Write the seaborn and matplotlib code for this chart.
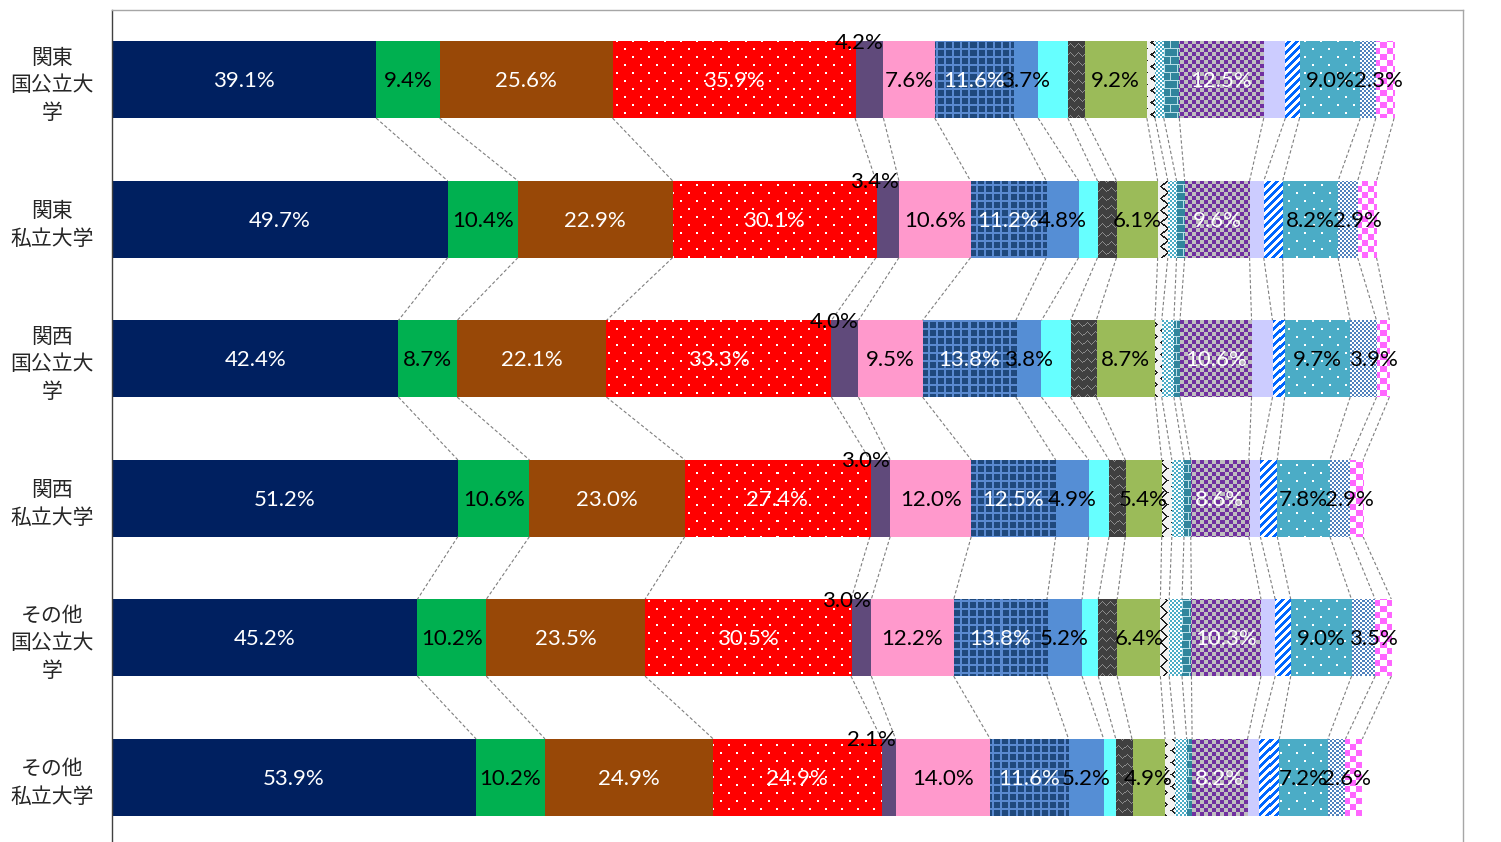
import numpy as np
import pandas as pd
import matplotlib
matplotlib.use("Agg")
import matplotlib.pyplot as plt
import matplotlib.transforms as mtransforms
import seaborn as sns

# ---- data -------------------------------------------------------------
categories = ["関東\n国公立大\n学", "関東\n私立大学", "関西\n国公立大\n学",
              "関西\n私立大学", "その他\n国公立大\n学", "その他\n私立大学"]

kanto_public = [39.1, 9.4, 25.6, 35.9, 4.2, 7.6, 11.6, 3.7, 4.4, 2.5,
                9.2, 1.2, 1.3, 2.3, 12.5, 3.2, 2.1, 9.0, 2.3, 2.7]
kanto_private = [49.7, 10.4, 22.9, 30.1, 3.4, 10.6, 11.2, 4.8, 2.8, 2.8,
                 6.1, 1.5, 1.3, 1.2, 9.6, 2.1, 2.8, 8.2, 2.9, 2.8]
kansai_public = [42.4, 8.7, 22.1, 33.3, 4.0, 9.5, 13.8, 3.8, 4.3, 3.8,
                 8.7, 1.0, 1.8, 0.9, 10.6, 3.1, 1.8, 9.7, 3.9, 1.9]
kansai_private = [51.2, 10.6, 23.0, 27.4, 3.0, 12.0, 12.5, 4.9, 3.0, 2.4,
                  5.4, 1.5, 1.8, 1.0, 8.6, 1.7, 2.5, 7.8, 2.9, 2.0]
other_public = [45.2, 10.2, 23.5, 30.5, 3.0, 12.2, 13.8, 5.2, 2.4, 2.8,
                6.4, 1.3, 1.9, 1.4, 10.3, 2.1, 2.3, 9.0, 3.5, 2.4]
other_private = [53.9, 10.2, 24.9, 24.9, 2.1, 14.0, 11.6, 5.2, 1.8, 2.4,
                 4.9, 1.5, 1.7, 0.8, 8.2, 1.7, 3.0, 7.2, 2.6, 2.5]

rows = [kanto_public, kanto_private, kansai_public,
        kansai_private, other_public, other_private]

# series that carry a value label
labelled = [0, 1, 2, 3, 4, 5, 6, 7, 10, 14, 17, 18]

# ---- styles -------------------------------------------------------------
# (base colour, pattern, label colour)
styles = [
    ("#002060", None, "white"),
    ("#00B050", None, "black"),
    ("#984807", None, "white"),
    ("#FF0000", "dots", "white"),
    ("#604A7B", None, "black"),
    ("#FF99CC", None, "black"),
    ("#1F497D", "grid", "white"),
    ("#558ED5", None, "black"),
    ("#66FFFF", None, "black"),
    ("#404040", "wave", "black"),
    ("#9BBB59", None, "black"),
    ("#F2F2F2", "zigzag", "black"),
    ("#4BACC6", "smallcheck", "black"),
    ("#31859C", "brick", "black"),
    ("#7030A0", "checker_purple", "white"),
    ("#CCCCFF", None, "black"),
    ("#0066FF", "diag", "black"),
    ("#4BACC6", "dots", "black"),
    ("#4F81BD", "smallcheck", "black"),
    ("#FF66FF", "checker_pink", "black"),
]


def rgb(hexcol):
    return np.array(matplotlib.colors.to_rgb(hexcol))


def texture(kind, base, X, Y):
    """Return an RGB array for pattern `kind` on global pixel grids X, Y."""
    bg = rgb(base)
    white = np.array([1.0, 1.0, 1.0])
    if kind == "dots":
        m = ((X % 16 < 2) & (Y % 16 < 2)) | (((X + 8) % 16 < 2) & ((Y + 8) % 16 < 2))
        fg = white
    elif kind == "grid":
        m = (X % 8 < 2) | (Y % 8 < 2)
        fg = rgb("#5A8AD0")
    elif kind == "wave":
        off = np.round(1.5 * np.sin(2 * np.pi * X / 8)).astype(int)
        m = ((Y - off) % 9) == 0
        fg = rgb("#8C8C8C")
    elif kind == "zigzag":
        tri = np.abs((Y % 12) - 6)
        m = ((X - tri) % 10) < 2
        fg = rgb("#202020")
    elif kind == "smallcheck":
        m = ((X // 2 + Y // 2) % 2) == 0
        fg = white
    elif kind == "brick":
        row = Y // 8
        m = (Y % 8 == 0) | ((row % 2 == 0) & (X % 12 == 0)) | ((row % 2 == 1) & (X % 12 == 6))
        fg = rgb("#B7DEE8")
    elif kind == "checker_purple":
        m = ((X // 4 + Y // 4) % 2) == 0
        fg = rgb("#BFBFBF")
    elif kind == "diag":
        m = ((X + Y) % 8) >= 4
        fg = white
    elif kind == "checker_pink":
        m = ((X // 6 + Y // 6) % 2) == 0
        fg = white
    else:
        m = np.zeros_like(X, dtype=bool)
        fg = bg
    img = np.empty(X.shape + (3,))
    img[:] = bg
    img[m] = fg
    return img


# ---- figure -------------------------------------------------------------
sns.set_theme(style="white")
plt.rcParams["font.family"] = ["Lato", "Noto Sans CJK JP", "DejaVu Sans"]

W, H = 1501, 842
fig = plt.figure(figsize=(W / 100, H / 100), dpi=100)
ax = fig.add_axes([112 / W, 1 - 847 / H, (1463 - 112) / W, (847 - 10) / H])

values = np.array(rows)
cum = np.cumsum(values, axis=1)
n_rows, n_series = values.shape
bar_w = 0.55

containers = {}
for k in range(n_series - 1, -1, -1):
    df = pd.DataFrame({"cat": categories, "total": cum[:, k]})
    sns.barplot(data=df, x="total", y="cat", orient="h", order=categories,
                color=styles[k][0], saturation=1, width=bar_w, linewidth=0,
                errorbar=None, ax=ax)
    containers[k] = ax.containers[-1]

ax.set_xlim(0, 200)
ax.set_ylim(n_rows - 0.5, -0.5)

# pattern fills on the visible part of every patterned segment
fig.canvas.draw()
for k, (base, kind, _) in enumerate(styles):
    if kind is None:
        continue
    for r, patch in enumerate(containers[k].patches):
        x0 = cum[r, k - 1] if k > 0 else 0.0
        x1 = cum[r, k]
        y0 = patch.get_y()
        y1 = y0 + patch.get_height()
        (px0, py_a), (px1, py_b) = ax.transData.transform([(x0, y0), (x1, y1)])
        c0, c1 = int(round(px0)), int(round(px1))
        r0 = int(round(H - max(py_a, py_b)))
        r1 = int(round(H - min(py_a, py_b)))
        if c1 <= c0 or r1 <= r0:
            continue
        X, Y = np.meshgrid(np.arange(c0, c1), np.arange(r0, r1))
        img = texture(kind, base, X, Y)
        ax.imshow(img, extent=(x0, x1, max(y0, y1), min(y0, y1)),
                  origin="upper", aspect="auto", interpolation="nearest",
                  zorder=2)

ax.set_xlim(0, 200)
ax.set_ylim(n_rows - 0.5, -0.5)

# dashed series lines between neighbouring bars
for r in range(n_rows - 1):
    for k in range(n_series):
        ax.plot([cum[r, k], cum[r + 1, k]],
                [r + bar_w / 2, r + 1 - bar_w / 2],
                color="#7F7F7F", lw=0.8, ls=(0, (3, 2)), zorder=1)

# value labels
fs = 16
right_shift = mtransforms.offset_copy(ax.transData, fig=fig, x=10, y=0, units="dots")
for r in range(n_rows):
    for k in labelled:
        v = values[r, k]
        x0 = cum[r, k - 1] if k > 0 else 0.0
        x1 = cum[r, k]
        txt = f"{v:.1f}%"
        col = styles[k][2]
        if k == 4:
            ax.text(x1, r - bar_w / 2 + 0.01, txt, ha="right", va="center",
                    fontsize=fs, color=col, zorder=6)
        elif k == 18:
            ax.text((x0 + x1) / 2, r + 0.01, txt, ha="center", va="center",
                    fontsize=fs, color=col, zorder=6, transform=right_shift)
        else:
            ax.text((x0 + x1) / 2, r + 0.01, txt, ha="center", va="center",
                    fontsize=fs, color=col, zorder=6)

# axes dressing
ax.set_xlabel("")
ax.set_ylabel("")
ax.set_xticks([0, 100, 200])
ax.set_xticklabels([])
ax.set_yticks(range(n_rows))
ax.set_yticklabels(categories, ha="center", multialignment="center",
                   linespacing=1.45, fontsize=15)
ax.set_yticks(np.arange(-0.5, n_rows, 1.0), minor=True)
ax.tick_params(axis="y", which="major", length=0, pad=43)
ax.tick_params(axis="y", which="minor", length=5, direction="in",
               width=0.8, color="#404040")
ax.tick_params(axis="x", which="major", length=5, direction="in",
               width=0.8, color="#404040")
for side in ("top", "right"):
    ax.spines[side].set_color("#A6A6A6")
    ax.spines[side].set_linewidth(1.0)
ax.spines["left"].set_color("#404040")
ax.spines["left"].set_linewidth(1.0)
ax.spines["bottom"].set_color("#404040")

fig.savefig("out.png", dpi=100)
